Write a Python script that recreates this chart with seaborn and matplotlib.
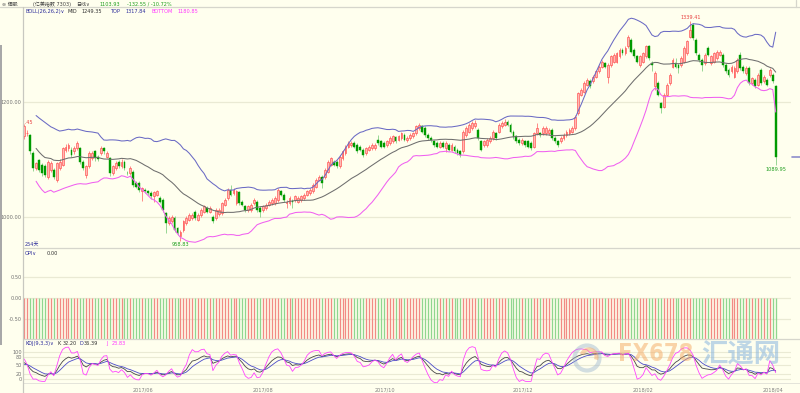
import numpy as np
import pandas as pd
import matplotlib
matplotlib.use("Agg")
import matplotlib.pyplot as plt
import seaborn as sns
from matplotlib.patches import Rectangle, Circle, Arc

# ---------------- data (daily candles, Apr 2017 - Apr 2018) ----------------
opens = [1140,1145,1142,1111,1085,1099,1091,1088,1070,1082,1082,1065,1085,1091,1117,1119,1117,1114,1119,1119,
         1096,1073,1088,1102,1114,1105,1111,1119,1105,1102,1076,1085,1096,1088,1096,1077,1076,1079,1059,1059,
         1045,1047,1045,1042,1036,1039,1033,1030,1007,990,993,999,981,967,978,990,996,999,1010,996,
         1004,1010,1016,1010,1001,999,
         1005,1007,1022,1033,1047,1042,1024,1043,1027,1019,1013,1013,1024,1027,1016,1013,1016,1022,1024,1024,
         1030,1045,1039,1024,1024,1029,1030,1027,1030,1033,1039,1042,1045,1053,1065,1070,1070,1079,1091,1096,
         1096,1088,1102,1111,1122,1125,1128,1125,1122,1117,1111,1117,1119,1120,1134,1131,1128,1125,1128,1131,
         1138,1134,1137,1142,1133,
         1137,1140,1145,1154,1157,1154,1142,1137,1131,1128,1122,1128,1119,1125,1117,1122,1117,1114,1114,1142,
         1148,1154,1157,1151,1131,1125,1125,1131,1137,1145,1148,1157,1160,1165,1160,1148,1140,1134,1128,1131,
         1131,1128,1122,1145,1145,1145,1145,1145,1151,1137,1131,1131,1137,1142,1145,1148,1154,1180,1212,1217,
         1229,1235,1235,1243,1252,1260,
         1266,1243,1263,1269,1269,1278,1289,1283,1295,1306,1289,1278,1263,1269,1278,1295,1267,1226,1232,1197,
         1191,1212,1232,1260,1266,1263,1263,1269,1283,1312,1332,1306,1281,1272,1266,1292,1266,1269,1275,1281,
         1281,1263,1255,1252,1243,1252,1281,1260,1249,1258,1232,1237,1229,1255,1235,1237,1246,1246,1226]
closes = [1157,1146,1114,1085,1093,1082,1076,1073,1096,1093,1070,1093,1096,1119,1122,1125,1108,1119,1128,1096,
          1085,1088,1111,1111,1102,1100,1119,1114,1111,1076,1088,1093,1088,1096,1085,1076,1085,1056,1053,1047,
          1050,1045,1042,1036,1043,1045,1027,1013,990,999,1001,978,973,975,993,999,1004,1004,999,1004,
          1013,1019,1010,1016,993,1013,
          1013,1024,1030,1047,1039,1047,1045,1024,1022,1013,1019,1022,1030,1013,1010,1019,1022,1027,1030,1033,
          1047,1039,1030,1027,1033,1026,1036,1033,1036,1039,1045,1047,1056,1065,1070,1059,1082,1096,1102,1091,
          1088,1105,1114,1122,1128,1128,1122,1114,1117,1108,1119,1122,1125,1125,1128,1122,1122,1131,1137,1140,
          1131,1140,1145,1134,1137,
          1142,1145,1157,1160,1148,1142,1137,1133,1125,1122,1128,1122,1128,1117,1125,1114,1111,1108,1148,1154,
          1160,1163,1163,1137,1117,1131,1134,1137,1148,1137,1160,1163,1165,1160,1148,1138,1131,1128,1134,1125,
          1122,1119,1145,1154,1142,1154,1154,1151,1137,1131,1125,1137,1142,1148,1151,1154,1174,1214,1220,1232,
          1237,1226,1243,1252,1260,1269,
          1260,1263,1278,1281,1283,1289,1283,1292,1312,1286,1278,1269,1278,1283,1295,1275,1263,1249,1212,1188,
          1212,1229,1246,1272,1260,1258,1275,1292,1304,1324,1309,1283,1272,1263,1281,1281,1278,1283,1286,1286,
          1263,1252,1246,1260,1258,1272,1258,1252,1258,1232,1240,1226,1246,1232,1243,1229,1255,1235,1103.93]
highs = [1162,1150,1144,1114,1096,1101,1094,1092,1099,1097,1085,1096,1100,1122,1126,1129,1121,1123,1132,1122,
         1099,1091,1114,1115,1117,1108,1123,1122,1115,1105,1091,1097,1099,1100,1099,1080,1089,1082,1062,1062,
         1053,1050,1048,1045,1046,1048,1036,1033,1010,1002,1004,1002,984,978,996,1002,1007,1007,1013,1007,
         1016,1022,1019,1019,1004,1016,
         1016,1027,1033,1050,1055,1050,1048,1046,1030,1022,1022,1025,1033,1030,1019,1022,1025,1030,1033,1036,
         1050,1048,1042,1030,1036,1032,1039,1036,1039,1042,1048,1050,1059,1068,1073,1073,1085,1099,1105,1099,
         1099,1108,1117,1125,1131,1132,1131,1128,1125,1120,1122,1125,1128,1128,1142,1134,1131,1134,1140,1143,
         1141,1143,1148,1145,1140,
         1145,1148,1160,1163,1160,1157,1145,1140,1134,1131,1131,1131,1131,1128,1128,1125,1120,1117,1151,1157,
         1163,1166,1168,1154,1134,1134,1137,1140,1151,1148,1163,1166,1169,1168,1163,1151,1143,1137,1137,1134,
         1134,1131,1148,1163,1148,1157,1157,1154,1154,1140,1134,1140,1145,1151,1154,1157,1177,1217,1223,1235,
         1240,1238,1246,1255,1263,1272,
         1269,1266,1281,1284,1286,1292,1292,1295,1315,1309,1292,1281,1281,1286,1298,1298,1270,1252,1235,1200,
         1215,1232,1249,1275,1275,1266,1278,1295,1307,1339.41,1335,1309,1284,1275,1284,1295,1281,1286,1289,1289,
         1284,1266,1258,1263,1261,1275,1286,1263,1261,1261,1243,1240,1249,1258,1246,1240,1258,1249,1229]
lows = [1136,1141,1110,1080,1082,1078,1072,1070,1066,1079,1066,1061,1082,1088,1113,1115,1104,1110,1116,1092,
        1081,1068,1085,1099,1098,1097,1108,1110,1102,1072,1073,1082,1085,1085,1082,1073,1073,1052,1050,1043,
        1028,1042,1039,1032,1026,1036,1024,1009,973,986,990,975,969,958.83,975,987,993,996,996,993,
        1001,1007,1007,1007,990,996,
        1002,1004,1019,1030,1036,1039,1021,1021,1019,1010,1010,1010,1021,1010,1000,1010,1013,1019,1021,1021,
        1027,1036,1027,1016,1021,1016,1027,1024,1027,1030,1036,1039,1042,1050,1062,1050,1067,1076,1088,1088,
        1085,1085,1099,1108,1119,1122,1119,1111,1114,1105,1108,1114,1116,1117,1125,1119,1119,1122,1125,1128,
        1128,1131,1134,1131,1130,
        1134,1137,1142,1151,1145,1139,1134,1130,1122,1119,1119,1119,1112,1114,1114,1111,1108,1105,1111,1139,
        1145,1151,1154,1134,1114,1122,1122,1128,1134,1134,1145,1154,1157,1157,1145,1135,1128,1125,1125,1122,
        1119,1116,1119,1142,1139,1142,1142,1142,1134,1128,1122,1128,1134,1139,1142,1145,1151,1177,1209,1214,
        1226,1223,1232,1240,1249,1257,
        1257,1232,1260,1266,1266,1275,1280,1280,1292,1283,1275,1266,1260,1266,1275,1272,1252,1220,1209,1180,
        1188,1209,1229,1257,1257,1250,1260,1266,1280,1309,1306,1280,1269,1252,1263,1278,1263,1266,1272,1278,
        1260,1249,1243,1249,1240,1249,1255,1249,1246,1229,1229,1223,1226,1229,1232,1226,1243,1232,1089.95]

price_ticks = [1000, 1200]
opi_ticks = [0.5, 0.0, -0.5]
kdj_ticks = [0, 20, 50, 80, 100]
month_labels = ["2017/06", "2017/08", "2017/10", "2017/12", "2018/02", "2018/04"]
month_index = [40.3, 81.0, 122.4, 169.2, 209.9, 254.1]

# ---------------- derived indicators ----------------
n = min(len(opens), len(closes), len(highs), len(lows))
o = np.array(opens[:n], float)
c = np.array(closes[:n], float)
h = np.array(highs[:n], float)
l = np.array(lows[:n], float)
idx = np.arange(n)
up = c >= o

cs = pd.Series(c)
mid = cs.rolling(26, min_periods=5).mean()
sd = cs.rolling(26, min_periods=5).std(ddof=0)
top = mid + 2 * sd
bot = mid - 2 * sd

llv = pd.Series(l).rolling(9, min_periods=1).min().values
hhv = pd.Series(h).rolling(9, min_periods=1).max().values
rng = np.where(hhv - llv == 0, 1, hhv - llv)
rsv = (c - llv) / rng * 100
K = np.zeros(n); D = np.zeros(n)
kp, dp = 50.0, 50.0
for i in range(n):
    kp = 2 / 3 * kp + rsv[i] / 3
    dp = 2 / 3 * dp + kp / 3
    K[i], D[i] = kp, dp
J = 3 * K - 2 * D

# ---------------- styling ----------------
sns.set_style("white")
plt.rcParams["font.family"] = ["DejaVu Sans", "Noto Sans CJK SC"]
BG = "#FFFFEE"
FS = 3.6
NAVY = "#2B2B9A"
MAG = "#FF33FF"
GRN = "#1E9E1E"
GRID = "#EAEAD4"
SEP = "#D6D6CC"

W, H = 800, 393
fig = plt.figure(figsize=(8, 3.93), dpi=100, facecolor=BG)

XL, XR = 22.5, 791
def box(y0, y1):
    return [XL / W, 1 - y1 / H, (XR - XL) / W, (y1 - y0) / H]

xlim = (-0.61, 260.19)

ax = fig.add_axes(box(7, 248))
ax_opi = fig.add_axes(box(248, 339))
ax_kdj = fig.add_axes(box(339, 383))
for a in (ax, ax_opi, ax_kdj):
    a.set_facecolor(BG)
    for s in a.spines.values():
        s.set_visible(False)
    a.set_xlim(*xlim)
    a.tick_params(axis="y", length=0, pad=0.6, labelsize=FS, labelcolor="#707070")
    a.tick_params(axis="x", length=0)
    a.set_xticks([])
    a.set_xlabel(""); a.set_ylabel("")

# ---- main price panel ----
ax.set_ylim(947.0, 1363.2)
ax.set_yticks(price_ticks, labels=[f"{v:.2f}" for v in price_ticks])
for v in price_ticks:
    ax.axhline(v, color=GRID, lw=0.9, zorder=0)

wick_cols = np.where(up, "#FF6A6A", "#7CCB7C")
ax.vlines(idx, l, h, colors=wick_cols, lw=0.55, zorder=2)
body_lo = np.minimum(o, c)
body_h = np.maximum(np.abs(c - o), 0.9)
ax.bar(idx[up], body_h[up], bottom=body_lo[up], width=0.62, color="#FFB9B4",
       edgecolor="#FF4C4C", linewidth=0.45, zorder=3)
ax.bar(idx[~up], body_h[~up], bottom=body_lo[~up], width=0.62, color="#009A00",
       edgecolor="#009A00", linewidth=0.3, zorder=3)

sns.lineplot(x=idx, y=top.values, ax=ax, color="#6A6AC4", lw=0.75, estimator=None, legend=False, zorder=4)
sns.lineplot(x=idx, y=mid.values, ax=ax, color="#6E6E6E", lw=0.75, estimator=None, legend=False, zorder=4)
sns.lineplot(x=idx, y=bot.values, ax=ax, color="#F060F0", lw=0.75, estimator=None, legend=False, zorder=4)
ax.set_xlim(*xlim); ax.set_xlabel(""); ax.set_ylabel("")

imax = int(np.argmax(h)); imin = int(np.argmin(l))
ax.annotate(f"{h[imax]:.2f}", xy=(imax, h[imax]), xytext=(0, 0.8), textcoords="offset points",
            ha="center", va="bottom", color="#E84040", fontsize=FS)
ax.annotate(f"{l[imin]:.2f}", xy=(imin, l[imin]), xytext=(0, -0.3), textcoords="offset points",
            ha="center", va="top", color=GRN, fontsize=FS)
ax.annotate(f"{l[n-1]:.2f}", xy=(n - 1, l[n - 1]), xytext=(0, -1.0), textcoords="offset points",
            ha="center", va="top", color=GRN, fontsize=FS)
ax.annotate("1162.45", xy=(0, h[0]), xytext=(6.6, 0.7), textcoords="offset points",
            ha="right", va="center", color="#E84040", fontsize=FS, clip_on=True)

# ---- OPI panel ----
ax_opi.set_ylim(-0.976, 1.19)
ax_opi.set_yticks(opi_ticks, labels=[f"{v:.2f}" for v in opi_ticks])
for v in opi_ticks:
    ax_opi.axhline(v, color=GRID, lw=0.9, zorder=0)
opi_cols = np.where(up, "#F28A84", "#8FD68F")
ax_opi.vlines(idx, -1.2, 0.0, colors=opi_cols, lw=0.95, zorder=2)

# ---- KDJ panel ----
ax_kdj.set_ylim(-14.8, 148.1)
ax_kdj.set_yticks(kdj_ticks, labels=[str(v) for v in kdj_ticks])
for v in kdj_ticks:
    ax_kdj.axhline(v, color=GRID, lw=0.8, zorder=0)
sns.lineplot(x=idx, y=K, ax=ax_kdj, color="#474747", lw=0.6, estimator=None, legend=False)
sns.lineplot(x=idx, y=D, ax=ax_kdj, color="#4B4BC8", lw=0.6, estimator=None, legend=False)
sns.lineplot(x=idx, y=J, ax=ax_kdj, color="#FF44FF", lw=0.6, estimator=None, legend=False)
ax_kdj.set_xlim(*xlim); ax_kdj.set_xlabel(""); ax_kdj.set_ylabel("")
ax_kdj.set_xticks(month_index, labels=month_labels)
ax_kdj.tick_params(axis="x", length=2.3, width=0.5, color="#A0A0A0", labelsize=FS,
                   labelcolor="#808080", pad=1.3)

# ---------------- overlay (pixel coordinates) ----------------
ov = fig.add_axes([0, 0, 1, 1], facecolor="none")
ov.set_xlim(0, W); ov.set_ylim(H, 0); ov.axis("off")

# separators / frame
ov.plot([0, W], [7, 7], color=SEP, lw=0.9)
ov.plot([XL, W], [248, 248], color=SEP, lw=0.9)
ov.plot([XL, W], [339, 339], color=SEP, lw=0.9)
ov.plot([XL, W], [383, 383], color="#E4E4DA", lw=0.7)
ov.plot([XL, XL], [7, H], color="#C8C8C0", lw=0.9)
ov.plot([796, 796], [0, 7], color=SEP, lw=0.9)
ov.add_patch(Rectangle((0, 45), 2.2, 300, color="#A8A8A8", lw=0))
ov.plot([791.5, 800], [157, 157], color="#8E8ECC", lw=1.2)

def t(x, y, s, color="#303030", ha="left", **kw):
    ov.text(x, y, s, color=color, fontsize=FS, ha=ha, va="center", **kw)

# toolbar
t(1.5, 4.2, "∞ 個股", color="#404040")
t(33, 4.2, "(亿美指数 7303)", color="#404040")
t(76, 4.2, "日线∨", color="#404040")
t(100, 4.2, "1103.93", color=GRN)
t(127, 4.2, "-132.55 / -10.72%", color=GRN)

# BOLL header
t(25, 11.2, "BOLL(26,26,2)∨", color=NAVY)
t(68, 11.2, "MID", color="#303030")
t(81, 11.2, "1249.35", color="#303030")
t(110, 11.2, "TOP", color=NAVY)
t(125, 11.2, "1317.84", color=NAVY)
t(152, 11.2, "BOTTOM", color=MAG)
t(178, 11.2, "1180.85", color=MAG)

t(24.5, 244, "254天", color=NAVY)

# OPI header
t(25, 253.5, "OPI∨", color=NAVY)
t(47, 253.5, "0.00", color="#303030")

# KDJ header
t(25, 343.4, "KDJ(9,3,3)∨", color=NAVY)
t(57, 343.4, "K", color="#303030")
t(63, 343.4, "32.20", color="#303030")
t(79, 343.4, "D", color=NAVY)
t(84, 343.4, "36.39", color="#303030")
t(106, 343.4, "J", color=MAG)
t(112, 343.4, "23.83", color=MAG)

# watermark
ov.add_patch(Circle((587, 358), 12.5, fill=False, ec="#9DB6D0", lw=3.0, alpha=0.45))
ov.add_patch(Arc((589, 357), 15, 15, theta1=200, theta2=380, ec="#F3A968", lw=3.0, alpha=0.5))
ov.text(656, 354, "FX678", color="#F5A862", alpha=0.5, fontsize=17, fontweight="bold",
        ha="center", va="center", fontstretch="condensed")
ov.text(741, 355, "汇通网", color="#7EAFDE", alpha=0.5, fontsize=19, fontweight="bold",
        ha="center", va="center", family=["Noto Sans CJK SC", "DejaVu Sans"])

fig.savefig("out.png", dpi=100, facecolor=BG)
